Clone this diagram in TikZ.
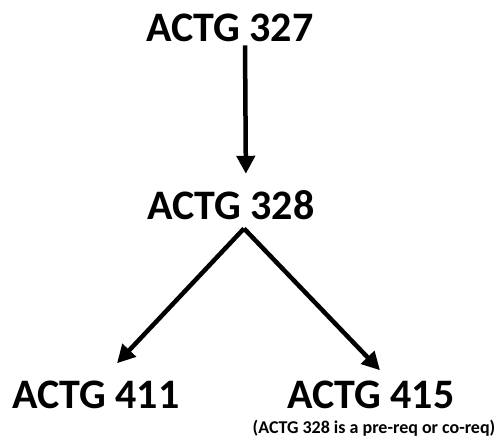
\documentclass[tikz,border=0pt]{standalone}
\usepackage{fontspec}
\setmainfont{Carlito}
\usetikzlibrary{arrows.meta}

\begin{document}
\begin{tikzpicture}[x=1pt, y=1pt,
  course/.style={font=\fontsize{42}{48}\selectfont\bfseries, inner sep=0pt, anchor=base},
  remark/.style={font=\fontsize{18}{21}\selectfont\bfseries, inner sep=0pt, anchor=base},
  link/.style={-{Triangle[length=18pt,width=18pt]}, line width=4.5pt}]
\useasboundingbox (0,0) rectangle (500,439);
% courses
\node[course] (c327) at (230,397) {ACTG 327};
\node[course] (c328) at (231,219) {ACTG 328};
\node[course] (c411) at (96,31) {ACTG 411};
\node[course] (c415) at (371,31) {ACTG 415};
\node[remark] (n415) at (374,6) {(ACTG 328 is a pre-req or co-req)};
% prerequisite arrows
\draw[link, shorten <=3pt, shorten >=17pt] ([xshift=15pt]c327.south) -- ([xshift=15pt]c328.north);
\coordinate (fork) at ([xshift=13pt,yshift=-8pt]c328.south);
\draw[link] (fork) -- ([xshift=21pt,yshift=17pt]c411.north);
\draw[link] (fork) -- ([xshift=9pt,yshift=10pt]c415.north);
\end{tikzpicture}
\end{document}
